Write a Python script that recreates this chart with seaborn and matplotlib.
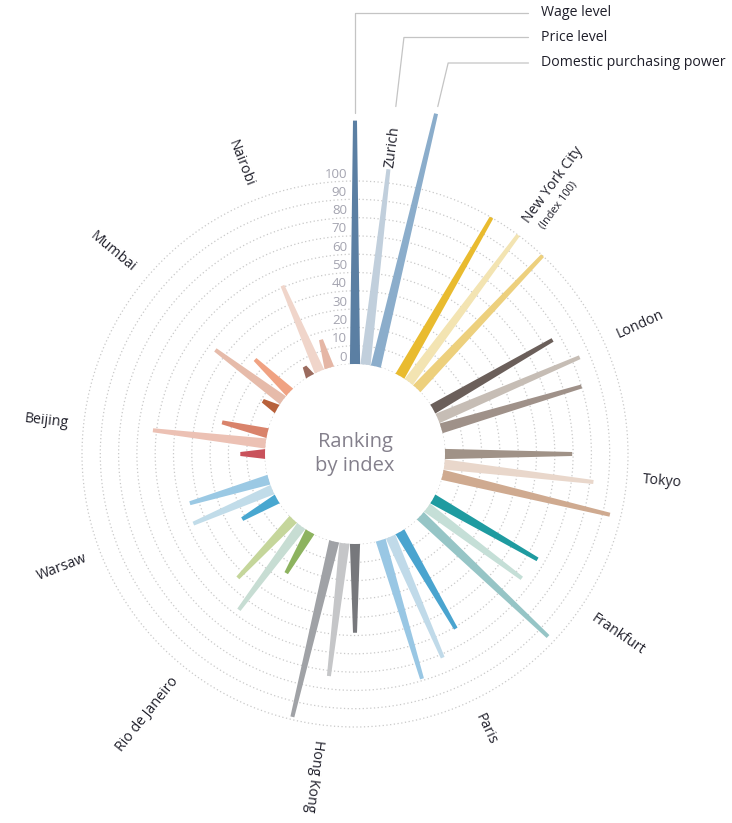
import numpy as np
import matplotlib
matplotlib.use("Agg")
import matplotlib.pyplot as plt
import seaborn as sns

# ---------------- data ----------------
cities = ["Zurich", "New York City", "London", "Tokyo", "Frankfurt", "Paris",
          "Hong Kong", "Rio de Janeiro", "Warsaw", "Beijing", "Mumbai", "Nairobi"]
series = ["Wage level", "Price level", "Domestic purchasing power"]
wage = [133, 100, 75.5, 69.5, 66, 61, 48.5, 26, 22, 13.5, 9, 6]
price = [107.5, 100, 84.5, 82, 64.5, 72, 73, 57, 47, 62, 46, 51]
dpp = [142, 100, 80, 94, 96, 79, 98.5, 44, 45, 25.5, 26, 16]
tick_values = list(range(0, 101, 10))
nyc_note = "(Index 100)"
center_title = "Ranking\nby index"

colors_wage = ["#5b7fa3", "#e9bb2f", "#6b5f5a", "#a09287", "#1f9ba0", "#4aa4cf",
               "#77787c", "#8db35f", "#49a7d0", "#c9525b", "#b8613b", "#9b6b5e"]
colors_price = ["#c1cfdc", "#f3e4b2", "#c6bdb5", "#e9d7cb", "#c5dfd7", "#c0dae9",
                "#c5c6c8", "#c7ddd3", "#c1dce9", "#ecc1b4", "#e6bbaa", "#f0d5ca"]
colors_dpp = ["#8badcb", "#edd07d", "#9f9189", "#cfaa90", "#96c5c6", "#99c7e4",
              "#a0a2a6", "#c5d69b", "#9bc9e4", "#d9836b", "#f0a282", "#e5b6a5"]

# ---------------- style ----------------
sns.set_theme(style="white")
plt.rcParams["font.family"] = ["Open Sans", "DejaVu Sans"]

W, H = 732, 823
CX, CY = 355, 454          # centre (pixels from top-left)
R0 = 90.0                  # pixel radius of value 0
PPU = 1.83                 # pixels per index unit
RMAX = 150

fig = plt.figure(figsize=(W / 100, H / 100), dpi=100)
rad_px = R0 + PPU * RMAX
ax = fig.add_axes([(CX - rad_px) / W, (H - CY - rad_px) / H,
                   2 * rad_px / W, 2 * rad_px / H], projection="polar")
ax.set_theta_zero_location("N")
ax.set_theta_direction(-1)
ax.set_ylim(0, RMAX)
ax.set_rorigin(-R0 / PPU)
ax.set_facecolor("none")
for sp in ax.spines.values():
    sp.set_visible(False)
    sp.set_linewidth(0)
    sp.set_edgecolor("none")
ax.set_xticks([])
ax.set_yticks(tick_values)
ax.set_yticklabels([])
ax.tick_params(length=0)
ax.yaxis.grid(True, color="#c9c9c9", linestyle=(0, (1, 2)), linewidth=0.9)
ax.set_axisbelow(True)

STEP = 360 / 12
SUB = 6.7
BASE_HALF = 5.25
TIP_HALF = 2.0
# angular offset of each city label from its sector start (degrees)
label_offset = [7.0, 6.4, 5.5, 5.1, 4.4, 4.5, 7.2, 8.6, 8.8, 6.2, 9.8, 8.6]
TXT = "#1f1f2a"
FS = 10.2

def tapered_bar(theta_deg, value, color):
    th = np.radians(theta_deg)
    hb = BASE_HALF / R0
    ht = TIP_HALF / (R0 + PPU * value)
    ax.fill([th - hb, th + hb, th + ht, th - ht], [-1, -1, value, value],
            color=color, linewidth=0, zorder=3)

for i, city in enumerate(cities):
    a = i * STEP
    tapered_bar(a, wage[i], colors_wage[i])
    tapered_bar(a + SUB, price[i], colors_price[i])
    tapered_bar(a + 2 * SUB, dpp[i], colors_dpp[i])

    la = a + label_offset[i]
    if i <= 6:
        rot, ha = 90 - la, "left"
    else:
        rot, ha = 270 - la, "right"
    ax.text(np.radians(la), 108.3, city, rotation=rot, ha=ha, va="center",
            rotation_mode="anchor", fontsize=FS, color=TXT, zorder=5)
    if city == "New York City":
        r = np.radians(rot)
        along = np.array([np.cos(r), np.sin(r)])
        perp = np.array([np.sin(r), -np.cos(r)])
        off = 5 * along + 16.5 * perp
        ax.annotate(nyc_note, xy=(np.radians(la), 108.3), xytext=tuple(off),
                    textcoords="offset pixels", rotation=rot, ha="left",
                    va="center", rotation_mode="anchor", fontsize=7.8,
                    color=TXT)

# radial tick labels
for v in tick_values:
    ax.annotate(str(v), xy=(0, v), xytext=(-8, 7), textcoords="offset pixels",
                ha="right", va="center", fontsize=9.5, color="#a4a4b0", zorder=4)

# centre text
ax.text(0.5, 0.5, center_title, transform=ax.transAxes, ha="center",
        va="center", fontsize=14.5, color="#84808c", linespacing=1.25)

# legend with leader lines
leader_start = [wage[0] + 4, 142, dpp[0] + 4]
legend_y = [12.5, 37.5, 63]
for k, name in enumerate(series):
    deg = k * SUB
    ax.annotate(name, xy=(np.radians(deg), leader_start[k]),
                xytext=(541, H - legend_y[k]), textcoords="figure pixels",
                ha="left", va="center", fontsize=FS, color=TXT,
                arrowprops=dict(arrowstyle="-", color="#c4c4c4", lw=0.9,
                                connectionstyle=f"angle,angleA=0,angleB={90 - deg},rad=0",
                                shrinkA=9, shrinkB=0, patchA=None,
                                relpos=(0, 0.5)))

fig.savefig("out.png", dpi=100, facecolor="white")
